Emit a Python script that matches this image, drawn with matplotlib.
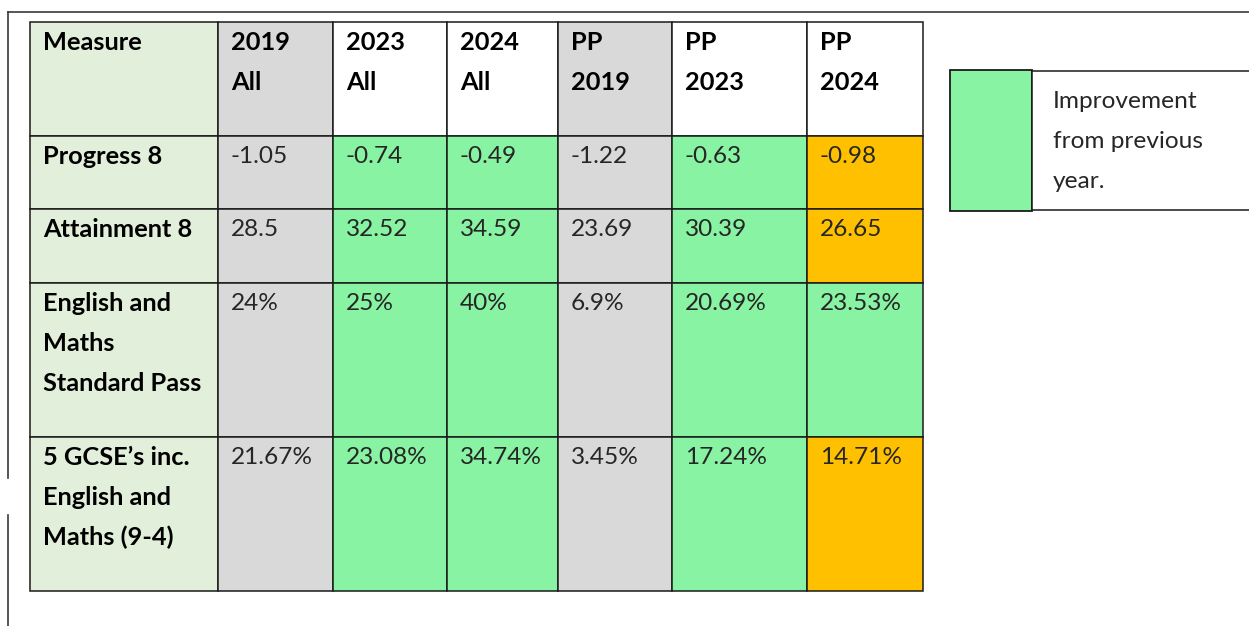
import matplotlib.pyplot as plt
from matplotlib.patches import Rectangle

# data
headers = ["Measure", "2019\nAll", "2023\nAll", "2024\nAll", "PP\n2019", "PP\n2023", "PP\n2024"]
measures = ["Progress 8", "Attainment 8", "English and\nMaths\nStandard Pass",
            "5 GCSE\u2019s inc.\nEnglish and\nMaths (9-4)"]
progress8 = ["-1.05", "-0.74", "-0.49", "-1.22", "-0.63", "-0.98"]
attainment8 = ["28.5", "32.52", "34.59", "23.69", "30.39", "26.65"]
eng_maths = ["24%", "25%", "40%", "6.9%", "20.69%", "23.53%"]
gcse5 = ["21.67%", "23.08%", "34.74%", "3.45%", "17.24%", "14.71%"]
rows = [progress8, attainment8, eng_maths, gcse5]

# cell status: g = grey (baseline), i = improvement, d = decline
header_status = ["m", "g", "w", "w", "g", "w", "w"]
status = [
    ["g", "i", "i", "g", "i", "d"],
    ["g", "i", "i", "g", "i", "d"],
    ["g", "i", "i", "g", "i", "i"],
    ["g", "i", "i", "g", "i", "d"],
]
legend_text = "Improvement\nfrom previous\nyear."

colors = {"m": "#E2EFDA", "g": "#D9D9D9", "w": "#FFFFFF", "i": "#88F3A2", "d": "#FFC000"}

# layout (pixels)
col_edges = [30, 218, 333, 447, 558, 672, 807, 923]
row_edges = [22, 136, 209, 283, 437, 591]
line_gap = 40
fs_bold = 18.3
fs_norm = 17.6
font = ["Lato", "DejaVu Sans"]

fig = plt.figure(figsize=(12.49, 6.26), dpi=100)
ax = fig.add_axes([0, 0, 1, 1])
ax.set_xlim(0, 1249)
ax.set_ylim(626, 0)
ax.axis("off")

# outer frame
ax.plot([8.5, 1249], [11.5, 11.5], color="#3a3a3a", lw=1.2)
ax.plot([8.5, 8.5], [11.5, 478], color="#3a3a3a", lw=1.2)
ax.plot([8.5, 8.5], [515, 626], color="#3a3a3a", lw=1.2)


def cell_text(x, y, txt, bold, color):
    for k, line in enumerate(txt.split("\n")):
        ax.text(x, y + k * line_gap, line, fontsize=fs_bold if bold else fs_norm,
                family=font, fontweight="bold" if bold else "normal", color=color,
                ha="left", va="center")


all_status = [header_status] + [["m"] + s for s in status]
all_text = [headers] + [[m] + r for m, r in zip(measures, rows)]
for r in range(len(row_edges) - 1):
    y0, y1 = row_edges[r], row_edges[r + 1]
    for c in range(len(col_edges) - 1):
        x0, x1 = col_edges[c], col_edges[c + 1]
        ax.add_patch(Rectangle((x0, y0), x1 - x0, y1 - y0,
                               facecolor=colors[all_status[r][c]],
                               edgecolor="#1a1a1a", lw=1.1))
        bold = r == 0 or c == 0
        cell_text(x0 + 13, y0 + 20.5, all_text[r][c], bold,
                  "#000000" if bold else "#262626")

# legend
ax.add_patch(Rectangle((950, 70), 82, 141, facecolor=colors["i"],
                       edgecolor="#1a1a1a", lw=1.3))
ax.add_patch(Rectangle((1032, 71), 230, 139, facecolor="white",
                       edgecolor="#1a1a1a", lw=1.1, clip_on=True))
cell_text(1053, 101.5, legend_text, False, "#262626")

fig.savefig("out.png", dpi=100)
